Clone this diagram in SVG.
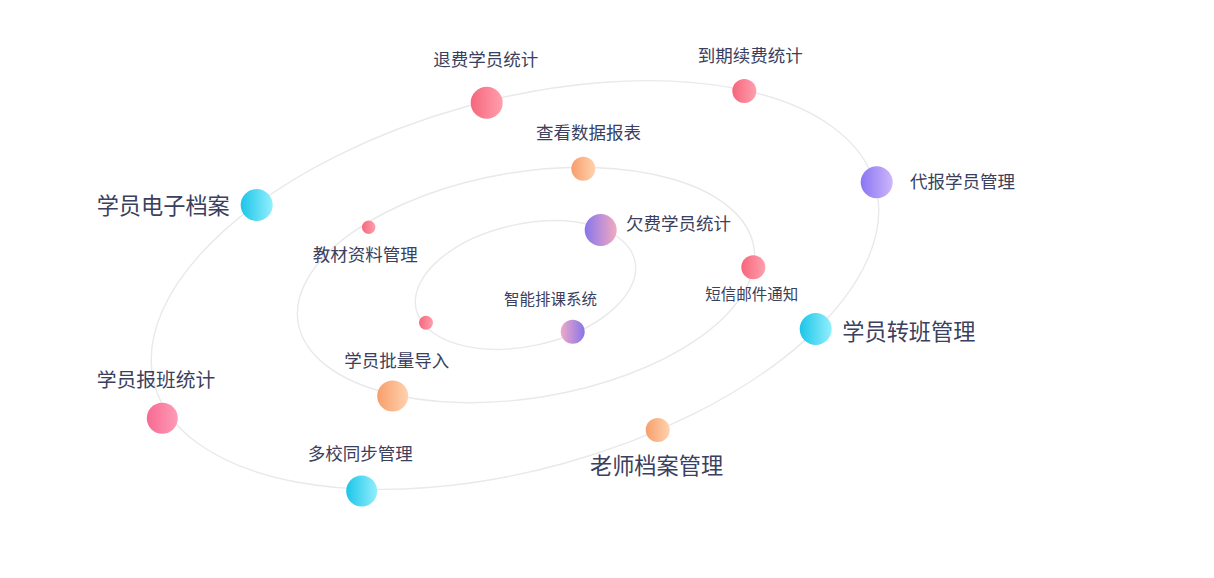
<svg xmlns="http://www.w3.org/2000/svg" width="1214" height="578" viewBox="0 0 1214 578">
<defs>
<linearGradient id="gRed" x1="0" y1="0" x2="1" y2="0"><stop offset="0" stop-color="#f6667c"/><stop offset="1" stop-color="#ff9fad"/></linearGradient>
<linearGradient id="gPink" x1="0" y1="0" x2="1" y2="0"><stop offset="0" stop-color="#f66a92"/><stop offset="1" stop-color="#ff9bb6"/></linearGradient>
<linearGradient id="gCyan" x1="0" y1="0" x2="1" y2="0"><stop offset="0" stop-color="#1cc5e9"/><stop offset="1" stop-color="#92effc"/></linearGradient>
<linearGradient id="gOrange" x1="0" y1="0" x2="1" y2="0"><stop offset="0" stop-color="#f79e6c"/><stop offset="1" stop-color="#ffd2ae"/></linearGradient>
<linearGradient id="gPurple" x1="0" y1="0" x2="1" y2="0"><stop offset="0" stop-color="#8a75f2"/><stop offset="1" stop-color="#cdb6fb"/></linearGradient>
<linearGradient id="gViolet" x1="0" y1="0" x2="1" y2="0"><stop offset="0" stop-color="#8875ec"/><stop offset="1" stop-color="#f3aac0"/></linearGradient>
<linearGradient id="gVioletR" x1="0" y1="0" x2="1" y2="0"><stop offset="0" stop-color="#eeaac8"/><stop offset="1" stop-color="#8875e8"/></linearGradient>
</defs>
<style>
.orbit{fill:none;stroke:#e9e9ec;stroke-width:1.4}
text{font-family:"Noto Sans CJK SC","Noto Sans",sans-serif;fill:#3a405d;dominant-baseline:central}
.s16{font-size:15.5px}
.s17{font-size:17.5px}
.s20{font-size:19.8px}
.s22{font-size:22.2px}
</style>
<rect width="1214" height="578" fill="#ffffff"/>
<g id="orbits">
<ellipse class="orbit" cx="0" cy="0" rx="374" ry="185" transform="translate(515 285) rotate(-15.5)"/>
<ellipse class="orbit" cx="0" cy="0" rx="231" ry="113" transform="translate(526 285) rotate(-9.4)"/>
<ellipse class="orbit" cx="0" cy="0" rx="112" ry="61" transform="translate(525.5 285) rotate(-12.4)"/>
</g>
<g id="n-tuifei"><circle cx="486.7" cy="102.7" r="16" fill="url(#gRed)"/><text class="s17" x="433.3" y="58.8">退费学员统计</text></g>
<g id="n-daoqi"><circle cx="744.3" cy="91" r="12" fill="url(#gRed)"/><text class="s17" x="697.7" y="54.8">到期续费统计</text></g>
<g id="n-chakan"><circle cx="583.3" cy="168.7" r="12" fill="url(#gOrange)"/><text class="s17" x="536" y="131.8">查看数据报表</text></g>
<g id="n-daibao"><circle cx="876.7" cy="182.3" r="16" fill="url(#gPurple)"/><text class="s17" x="910" y="180.3">代报学员管理</text></g>
<g id="n-dianzi"><circle cx="256.7" cy="205" r="16" fill="url(#gCyan)"/><text class="s22" x="96.7" y="203.5">学员电子档案</text></g>
<g id="n-jiaocai"><circle cx="368.7" cy="227.3" r="6.7" fill="url(#gRed)"/><text class="s17" x="312.7" y="253.3">教材资料管理</text></g>
<g id="n-qianfei"><circle cx="600.7" cy="230" r="16" fill="url(#gViolet)"/><text class="s17" x="626" y="222.8">欠费学员统计</text></g>
<g id="n-duanxin"><circle cx="753.3" cy="267.3" r="12" fill="url(#gRed)"/><text class="s16" x="705.3" y="292.9">短信邮件通知</text></g>
<g id="n-zhineng"><circle cx="572.7" cy="331.7" r="12" fill="url(#gVioletR)"/><text class="s16" x="504" y="297.9">智能排课系统</text></g>
<g id="n-dot"><circle cx="426" cy="322.7" r="7" fill="url(#gRed)"/></g>
<g id="n-zhuanban"><circle cx="815.7" cy="329" r="16" fill="url(#gCyan)"/><text class="s22" x="842.3" y="329.5">学员转班管理</text></g>
<g id="n-piliang"><circle cx="392.7" cy="396" r="15.5" fill="url(#gOrange)"/><text class="s17" x="344.3" y="359.3">学员批量导入</text></g>
<g id="n-baoban"><circle cx="162.3" cy="418.3" r="15.5" fill="url(#gPink)"/><text class="s20" x="96.7" y="378.2">学员报班统计</text></g>
<g id="n-laoshi"><circle cx="657.7" cy="430" r="12" fill="url(#gOrange)"/><text class="s22" x="590" y="463.5">老师档案管理</text></g>
<g id="n-duoxiao"><circle cx="361.7" cy="491" r="15.5" fill="url(#gCyan)"/><text class="s17" x="307.7" y="452.8">多校同步管理</text></g>
</svg>
